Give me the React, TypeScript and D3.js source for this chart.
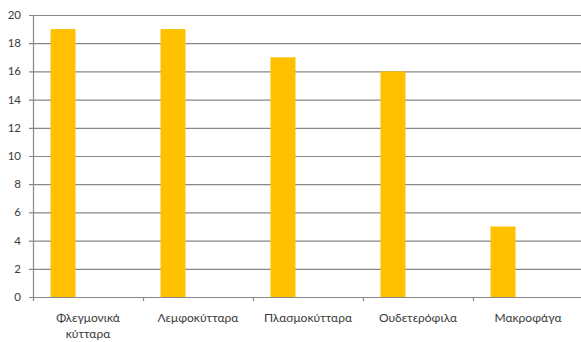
import React from "react";
import * as d3 from "d3";

const categories = ["Φλεγμονικά κύτταρα", "Λεμφοκύτταρα", "Πλασμοκύτταρα", "Ουδετερόφιλα", "Μακροφάγα"];
const categoryLines = [["Φλεγμονικά", "κύτταρα"], ["Λεμφοκύτταρα"], ["Πλασμοκύτταρα"], ["Ουδετερόφιλα"], ["Μακροφάγα"]];
const seriesNames = ["Σειρά 1", "Σειρά 2", "Σειρά 3"];
const values = [19, 19, 17, 16, 5];
const yTicks = [0, 2, 4, 6, 8, 10, 12, 14, 16, 18, 20];

const W = 581;
const H = 342;
const left = 33;
const right = 583;
const top = 15;
const bottom = 297;

export default function App() {
  const x0 = d3.scaleBand<string>().domain(categories).range([left, right]).paddingInner(0).paddingOuter(0);
  const x1 = d3.scaleBand<string>().domain(seriesNames).range([0, x0.bandwidth()]).paddingInner(0).paddingOuter(0.7);
  const y = d3.scaleLinear().domain([0, 20]).range([bottom, top]);
  const font = "Lato, 'Open Sans', sans-serif";
  const gridColor = "#878787";
  return (
    <svg width={W} height={H} style={{ position: "absolute", left: 0, top: 0 }}>
      <rect x={0} y={0} width={W} height={H} fill="#ffffff" />
      {yTicks.map((t) => (
        <g key={t}>
          <line x1={left - 4} x2={W} y1={y(t) + 0.5} y2={y(t) + 0.5} stroke={gridColor} strokeWidth={1.2} />
          <text x={21} y={y(t)} dy="0.35em" textAnchor="end" fontFamily={font} fontSize={11.5} fill="#3a3a3a">
            {t}
          </text>
        </g>
      ))}
      <line x1={left + 0.5} x2={left + 0.5} y1={top} y2={bottom} stroke={gridColor} strokeWidth={1.2} />
      {categories.map((c, i) => (
        <line key={"t" + i} x1={x0(c)! + 0.5} x2={x0(c)! + 0.5} y1={bottom} y2={bottom + 4} stroke={gridColor} strokeWidth={1.2} />
      ))}
      {categories.map((c, i) => (
        <rect
          key={"b" + i}
          x={x0(c)! + x1(seriesNames[0])!}
          y={y(values[i])}
          width={x1.bandwidth()}
          height={y(0) - y(values[i])}
          fill="#FFC000"
        />
      ))}
      {categories.map((c, i) => (
        <text key={"l" + i} x={x0(c)! + x0.bandwidth() / 2} y={322} textAnchor="middle" fontFamily={font} fontSize={12} fill="#3a3a3a">
          {categoryLines[i].map((ln, j) => (
            <tspan key={j} x={x0(c)! + x0.bandwidth() / 2} dy={j === 0 ? 0 : 16}>
              {ln}
            </tspan>
          ))}
        </text>
      ))}
    </svg>
  );
}
